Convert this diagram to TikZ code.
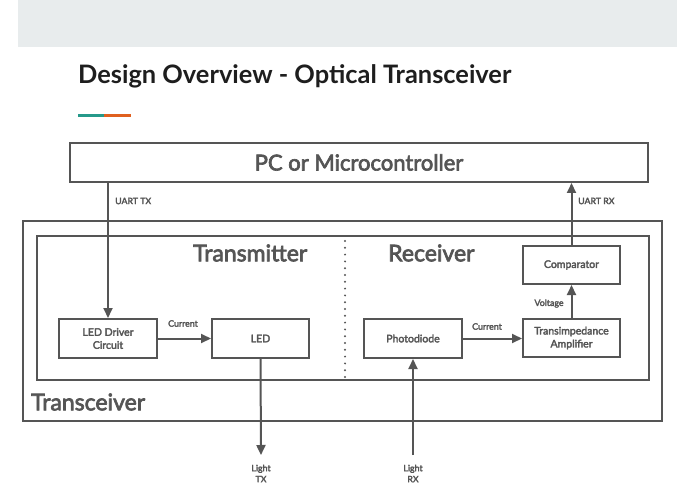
\documentclass[tikz,border=0pt]{standalone}
\usepackage{fontspec}
\setmainfont{Lato}
\newfontfamily\latosb{Lato}[FakeBold=3]
\usetikzlibrary{arrows.meta}
\definecolor{band}{HTML}{E8ECED}
\definecolor{ln}{HTML}{555555}
\definecolor{ttl}{HTML}{1E1E1E}
\definecolor{teal}{HTML}{26998A}
\definecolor{orng}{HTML}{E0601F}
\tikzset{
  blk/.style={draw=ln, line width=2pt, rectangle, inner sep=0pt, text=ln, font=\latosb\fontsize{10.5}{13}\selectfont, align=center},
  frame/.style={draw=ln, line width=2pt, rectangle, inner sep=0pt},
  conn/.style={draw=ln, line width=2pt, -{Triangle[length=10pt,width=9pt]}},
  lbl/.style={text=ln, font=\latosb\fontsize{8.8}{11}\selectfont, inner sep=0pt},
  big/.style={text=ln, font=\latosb\fontsize{23}{26}\selectfont, inner sep=0pt}
}
\begin{document}
\begin{tikzpicture}[x=1pt,y=-1pt]
\useasboundingbox (0,0) rectangle (695,494);
\fill[white] (0,0) rectangle (695,494);
\fill[band] (18,0) rectangle (677,47);
\node[anchor=base west, text=ttl, font=\fontsize{25.4}{28}\selectfont\bfseries, inner sep=0pt] (title) at (78,84) {Design Overview - Optical Transceiver};
\fill[teal] (78,114.5) rectangle (104,117.5);
\fill[orng] (104,114.5) rectangle (131,117.5);

\node[frame, minimum width=639pt, minimum height=200pt] (outer) at (342.5,321) {};
\node[frame, minimum width=612pt, minimum height=144pt] (inner) at (343,308) {};
\node[blk, minimum width=578pt, minimum height=39pt, font=\latosb\fontsize{22}{26}\selectfont] (pc) at (359,162.5) {PC or Microcontroller};

\node[big, anchor=west] (txt) at (193,253) {Transmitter};
\node[big, anchor=west] (rxt) at (388,253) {Receiver};
\node[big, anchor=west] (trx) at (31,402) {Transceiver};

\coordinate (dtop) at (345,241);
\coordinate (dbot) at (345,377);
\draw[ln, line width=2.2pt, dash pattern=on 0pt off 6.8pt, line cap=round] (dtop) -- (dbot);

\node[blk, minimum width=98pt, minimum height=39pt] (drv) at (108,338.5) {LED Driver\\Circuit};
\node[blk, minimum width=97pt, minimum height=39pt] (led) at (260.5,338.5) {LED};
\node[blk, minimum width=98pt, minimum height=39pt] (pd) at (413,338.5) {Photodiode};
\node[blk, minimum width=97pt, minimum height=38pt] (tia) at (571.5,338) {Transimpedance\\Amplifier};
\node[blk, minimum width=97pt, minimum height=38pt] (cmp) at (571.5,265) {Comparator};

\coordinate (ltx) at (261,455);
\coordinate (lrx) at (413,455);

\draw[conn] (pc.south -| drv.north) -- (drv.north);
\draw[conn] (drv.east) -- (led.west);
\draw[conn] (led.south) -- (ltx);
\draw[conn] (lrx) -- (pd.south);
\draw[conn] (pd.east) -- (pd.east -| tia.west);
\draw[conn] (tia.north) -- (cmp.south);
\draw[conn] (cmp.north) -- (cmp.north |- pc.south);

\node[lbl, anchor=west] (l1) at (115,201) {UART TX};
\node[lbl, anchor=west] (l2) at (578,201) {UART RX};
\node[lbl] (l3) at (183,323.5) {Current};
\node[lbl] (l4) at (487,326.5) {Current};
\node[lbl] (l5) at (549,303.5) {Voltage};
\node[lbl, align=center] (l6) at (261,473.5) {Light\\TX};
\node[lbl, align=center] (l7) at (413,473.5) {Light\\RX};
\end{tikzpicture}
\end{document}
